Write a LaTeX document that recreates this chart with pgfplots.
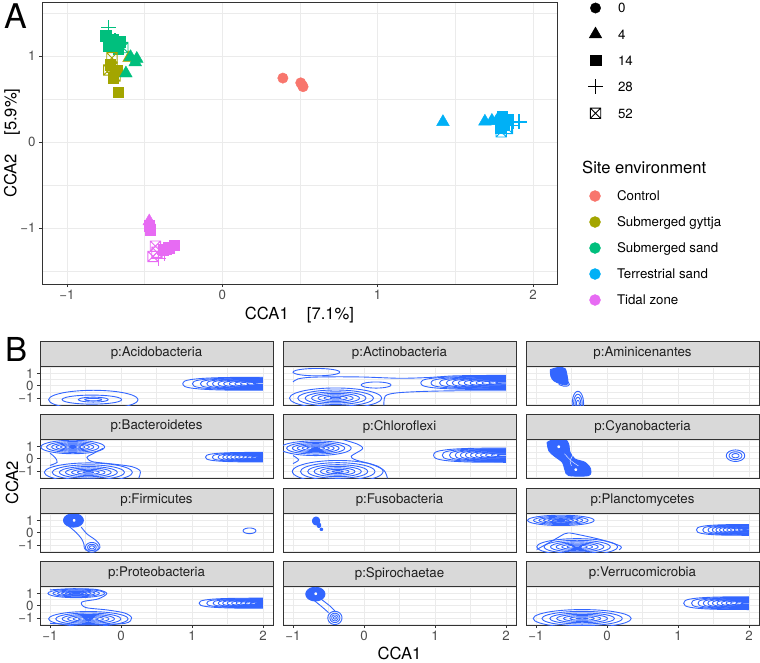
\documentclass[border=0pt]{standalone}
\usepackage{pgfplots}
\pgfplotsset{compat=1.18}
\usepackage{pgfplotstable}
\usepackage{fontspec}
\setmainfont{TeX Gyre Heros}

\definecolor{cA}{HTML}{F8766D}
\definecolor{cB}{HTML}{A3A500}
\definecolor{cC}{HTML}{00BF7D}
\definecolor{cD}{HTML}{00B0F6}
\definecolor{cE}{HTML}{E76BF3}
\definecolor{cblue}{HTML}{3366FF}
\definecolor{gridc}{HTML}{EBEBEB}
\definecolor{stripc}{HTML}{D9D9D9}
\definecolor{bordc}{HTML}{333333}
\definecolor{tickc}{HTML}{4D4D4D}

\pgfdeclareplotmark{sqx}{%
  \pgfpathrectangle{\pgfpoint{-\pgfplotmarksize}{-\pgfplotmarksize}}{\pgfpoint{2\pgfplotmarksize}{2\pgfplotmarksize}}%
  \pgfpathmoveto{\pgfpoint{-\pgfplotmarksize}{-\pgfplotmarksize}}\pgfpathlineto{\pgfpoint{\pgfplotmarksize}{\pgfplotmarksize}}%
  \pgfpathmoveto{\pgfpoint{-\pgfplotmarksize}{\pgfplotmarksize}}\pgfpathlineto{\pgfpoint{\pgfplotmarksize}{-\pgfplotmarksize}}%
  \pgfusepathqstroke}

% unit ellipse (full) and left half of a rounded-rectangle (superellipse) used as contour templates
\pgfplotstableread{
u v
1 0
0.9659 0.2588
0.8660 0.5
0.7071 0.7071
0.5 0.8660
0.2588 0.9659
0 1
-0.2588 0.9659
-0.5 0.8660
-0.7071 0.7071
-0.8660 0.5
-0.9659 0.2588
-1 0
-0.9659 -0.2588
-0.8660 -0.5
-0.7071 -0.7071
-0.5 -0.8660
-0.2588 -0.9659
0 -1
0.2588 -0.9659
0.5 -0.8660
0.7071 -0.7071
0.8660 -0.5
0.9659 -0.2588
1 0
}\fullE
\pgfplotstableread{
u v
0 1
-0.406 0.977
-0.630 0.908
-0.794 0.794
-0.908 0.630
-0.977 0.406
-1 0
-0.977 -0.406
-0.908 -0.630
-0.794 -0.794
-0.630 -0.908
-0.406 -0.977
0 -1
}\halfE

\pgfplotsset{
  cline/.style={cblue, line width=0.9pt, smooth, mark=none},
  facet/.style={scale only axis, width=233pt, height=39pt, anchor=north west,
    xmin=-1.141, xmax=2.141, ymin=-1.58, ymax=1.6,
    xtick={-1,0,1,2}, ytick={-1,0,1},
    minor xtick={-0.5,0.5,1.5}, minor ytick={-1.5,-0.5,0.5,1.5},
    xticklabels={}, yticklabels={},
    grid=both, major grid style={gridc, line width=0.7pt}, minor grid style={gridc, line width=0.35pt},
    axis line style={bordc, line width=0.6pt},
    tick pos=left, tick align=outside, major tick length=3pt, minor tick length=0pt,
    xtick style={draw=none}, ytick style={draw=none},
    ticklabel style={font=\fontsize{13.3}{15}\selectfont, text=tickc},
  },
  lcol/.style={yticklabels={−1,0,1}, ytick style={draw=bordc, line width=0.6pt}},
  brow/.style={xticklabels={−1,0,1,2}, xtick style={draw=bordc, line width=0.6pt}},
}
\tikzset{strip/.style={draw=bordc, fill=stripc, line width=0.6pt, minimum width=233pt, minimum height=25pt,
  inner sep=0pt, font=\fontsize{13.3}{15}\selectfont, text=black!88}}

\newcommand{\ELs}[6]{\addplot[cline] table[x expr={#1+(#3)*(#5)*\thisrow{u}}, y expr={#2+(#4)*(#6)*\thisrow{v}}]{\fullE};}
\newcommand{\EL}[4]{\ELs{#1}{#2}{#3}{#4}{1}{1}}
\newcommand{\ELF}[5][cblue]{\addplot[cline, draw=#1, fill=#1] table[x expr={#2+(#4)*\thisrow{u}}, y expr={#3+(#5)*\thisrow{v}}]{\fullE};}
\newcommand{\nest}[4]{\ELs{#1}{#2}{#3}{#4}{1}{1}\ELs{#1}{#2}{#3}{#4}{0.82}{0.8}\ELs{#1}{#2}{#3}{#4}{0.66}{0.62}\ELs{#1}{#2}{#3}{#4}{0.52}{0.47}\ELs{#1}{#2}{#3}{#4}{0.38}{0.33}\ELs{#1}{#2}{#3}{#4}{0.25}{0.2}\ELs{#1}{#2}{#3}{#4}{0.12}{0.08}}
\newcommand{\HLs}[5]{\addplot[cline] table[x expr={2+(#2)*(#4)*\thisrow{u}}, y expr={#1+(#3)*(#5)*\thisrow{v}}]{\halfE};}
\newcommand{\band}[3]{\HLs{#1}{#2}{#3}{1}{1}\HLs{#1}{#2}{#3}{0.88}{0.9}\HLs{#1}{#2}{#3}{0.78}{0.82}\HLs{#1}{#2}{#3}{0.7}{0.75}\HLs{#1}{#2}{#3}{0.63}{0.68}\HLs{#1}{#2}{#3}{0.56}{0.6}\HLs{#1}{#2}{#3}{0.49}{0.52}\HLs{#1}{#2}{#3}{0.42}{0.44}\HLs{#1}{#2}{#3}{0.35}{0.36}\HLs{#1}{#2}{#3}{0.28}{0.28}\HLs{#1}{#2}{#3}{0.2}{0.2}\HLs{#1}{#2}{#3}{0.12}{0.12}}

\begin{document}
\begin{tikzpicture}[x=1pt,y=1pt]
\path[use as bounding box] (0,0) rectangle (760,-662);

% ---------------- Panel A ----------------
\begin{axis}[
  scale only axis, width=515pt, height=282pt, at={(42pt,-2pt)}, anchor=north west,
  xmin=-1.16, xmax=2.154, ymin=-1.65, ymax=1.63,
  xtick={-1,0,1,2}, xticklabels={−1,0,1,2},
  ytick={-1,0,1}, yticklabels={−1,0,1},
  minor xtick={-0.5,0.5,1.5}, minor ytick={-1.5,-0.5,0.5,1.5},
  grid=both, major grid style={gridc, line width=0.7pt}, minor grid style={gridc, line width=0.35pt},
  axis line style={bordc, line width=0.6pt},
  tick pos=left, tick align=outside, major tick length=3pt, minor tick length=0pt,
  tick style={bordc, line width=0.6pt},
  ticklabel style={font=\fontsize{13.3}{15}\selectfont, text=tickc},
  xlabel={CCA1\hspace{1.1em}[7.1\%]}, ylabel={CCA2\hspace{1.1em}[5.9\%]},
  label style={font=\fontsize{16.6}{18}\selectfont},
  xlabel style={at={(axis description cs:0.5,-0.11)}, anchor=center},
  ylabel style={at={(axis description cs:-0.0583,0.5)}, anchor=center},
]
% Submerged sand
\addplot[only marks, mark=+, cC, mark size=7.5pt, line width=1.3pt] coordinates {(-0.73,1.33)(-0.69,1.18)};
\addplot[only marks, mark=square*, cC, mark size=5.2pt] coordinates {(-0.75,1.24)(-0.70,1.20)(-0.73,1.12)(-0.66,1.17)(-0.67,1.08)};
\addplot[only marks, mark=sqx, cC, mark size=5.2pt, line width=0.9pt] coordinates {(-0.64,1.10)};
% Submerged gyttja
\addplot[only marks, mark=triangle*, cB, mark size=7.3pt] coordinates {(-0.60,0.98)};
\addplot[only marks, mark=square*, cB, mark size=5.2pt] coordinates {(-0.67,0.58)(-0.72,0.90)(-0.68,0.83)(-0.70,0.75)};
\addplot[only marks, mark=sqx, cB, mark size=5.2pt, line width=0.9pt] coordinates {(-0.71,0.98)(-0.71,0.87)(-0.69,0.77)(-0.73,0.84)};
\addplot[only marks, mark=+, cB, mark size=7.5pt, line width=1.3pt] coordinates {(-0.70,0.86)};
\addplot[only marks, mark=triangle*, cC, mark size=7.3pt] coordinates {(-0.59,0.99)(-0.56,0.93)(-0.62,0.80)(-0.55,0.97)};
% Control
\addplot[only marks, mark=*, cA, mark size=5.2pt] coordinates {(0.39,0.745)(0.505,0.69)(0.515,0.66)(0.52,0.645)};
% Terrestrial sand
\addplot[only marks, mark=triangle*, cD, mark size=7.3pt] coordinates {(1.42,0.235)(1.69,0.24)(1.735,0.25)(1.765,0.245)};
\addplot[only marks, mark=square*, cD, mark size=5.2pt] coordinates {(1.80,0.30)(1.835,0.27)(1.815,0.20)(1.79,0.16)};
\addplot[only marks, mark=+, cD, mark size=7.5pt, line width=1.3pt] coordinates {(1.875,0.235)(1.91,0.235)(1.86,0.19)};
\addplot[only marks, mark=sqx, cD, mark size=5.2pt, line width=0.9pt] coordinates {(1.795,0.12)(1.835,0.16)};
% Tidal zone
\addplot[only marks, mark=triangle*, cE, mark size=7.3pt] coordinates {(-0.47,-0.92)};
\addplot[only marks, mark=square*, cE, mark size=5.2pt] coordinates {(-0.47,-0.97)(-0.465,-1.02)(-0.31,-1.20)(-0.345,-1.23)(-0.38,-1.25)};
\addplot[only marks, mark=sqx, cE, mark size=5.2pt, line width=0.9pt] coordinates {(-0.43,-1.21)(-0.445,-1.33)(-0.42,-1.28)};
\addplot[only marks, mark=+, cE, mark size=7.5pt, line width=1.3pt] coordinates {(-0.37,-1.30)(-0.41,-1.35)};
\end{axis}

% shape legend
\begin{axis}[hide axis, scale only axis, width=10pt, height=10pt, at={(588pt,-1pt)}, anchor=north west,
  xmin=0, xmax=1, ymin=0, ymax=1,
  legend cell align=left,
  legend style={at={(0,1)}, anchor=north west, draw=none, fill=none, inner sep=0pt, outer sep=0pt,
    font=\fontsize{13.3}{15}\selectfont, row sep=12pt,
    nodes={inner sep=1pt, minimum height=14pt, text height=9.5pt, text depth=0pt, anchor=west},
    /tikz/every odd column/.append style={column sep=14pt}},
  legend image code/.code={\draw[#1] plot coordinates {(0pt,0pt)};},
]
\addlegendimage{only marks, mark=*, black, mark size=5.2pt}
\addlegendentry{0}
\addlegendimage{only marks, mark=triangle*, black, mark size=7.3pt}
\addlegendentry{4}
\addlegendimage{only marks, mark=square*, black, mark size=5.2pt}
\addlegendentry{14}
\addlegendimage{only marks, mark=+, black, mark size=7.5pt, line width=1.1pt}
\addlegendentry{28}
\addlegendimage{only marks, mark=sqx, black, mark size=5.2pt, line width=0.9pt}
\addlegendentry{52}
\end{axis}

\node[anchor=west, inner sep=0pt, font=\fontsize{16.6}{18}\selectfont] at (582,-167) {Site environment};

% colour legend
\begin{axis}[hide axis, scale only axis, width=10pt, height=10pt, at={(589.5pt,-189pt)}, anchor=north west,
  xmin=0, xmax=1, ymin=0, ymax=1,
  legend cell align=left,
  legend style={at={(0,1)}, anchor=north west, draw=none, fill=none, inner sep=0pt, outer sep=0pt,
    font=\fontsize{13.3}{15}\selectfont, row sep=12pt,
    nodes={inner sep=1pt, minimum height=14pt, text height=9.5pt, text depth=0pt, anchor=west},
    /tikz/every odd column/.append style={column sep=15.5pt}},
  legend image code/.code={\draw[#1] plot coordinates {(0pt,0pt)};},
]
\addlegendimage{only marks, mark=*, cA, mark size=5.5pt}
\addlegendentry{Control}
\addlegendimage{only marks, mark=*, cB, mark size=5.5pt}
\addlegendentry{Submerged gyttja}
\addlegendimage{only marks, mark=*, cC, mark size=5.5pt}
\addlegendentry{Submerged sand}
\addlegendimage{only marks, mark=*, cD, mark size=5.5pt}
\addlegendentry{Terrestrial sand}
\addlegendimage{only marks, mark=*, cE, mark size=5.5pt}
\addlegendentry{Tidal zone}
\end{axis}

\node[anchor=north west, inner sep=0pt, font=\fontsize{34}{34}\selectfont] at (4,-4) {A};
\node[anchor=north west, inner sep=0pt, font=\fontsize{33}{33}\selectfont] at (5,-337) {B};

% ---------------- Panel B ----------------
% Acidobacteria
\begin{axis}[facet, at={(40pt,-366pt)}, lcol]
\EL{-0.39}{-1.15}{0.63}{0.77}
\EL{-0.41}{-1.14}{0.42}{0.37}
\EL{-0.39}{-1.14}{0.21}{0.2}
\EL{-0.39}{-1.14}{0.12}{0.1}
\band{0.15}{1.13}{0.53}
\end{axis}
% Actinobacteria
\begin{axis}[facet, at={(283pt,-366pt)}]
\EL{-0.67}{1.1}{0.33}{0.3}
\EL{0.17}{0.05}{0.21}{0.25}
\nest{-0.4}{-1.02}{0.65}{0.83}
\addplot[cline] coordinates {(-1,0.3)(-0.93,0.55)(-0.75,0.68)(-0.4,0.72)(0,0.7)(0.5,0.6)(0.9,0.66)(1.3,0.8)(2,0.84)};
\addplot[cline] coordinates {(2,-0.42)(1.3,-0.42)(0.8,-0.48)(0.45,-0.6)(0.3,-0.85)(0.28,-1.6)};
\band{0.22}{1.2}{0.54}
\end{axis}
% Aminicenantes
\begin{axis}[facet, at={(526pt,-366pt)}]
\addplot[cline, fill=cblue] coordinates {(-0.80,1.30)(-0.68,1.49)(-0.59,1.38)(-0.56,0.76)(-0.55,0.25)(-0.58,0.05)(-0.66,0.15)(-0.75,0.4)(-0.79,0.75)(-0.80,1.30)};
\addplot[cline] coordinates {(-0.56,0.4)(-0.53,0.1)(-0.55,-0.02)(-0.61,-0.05)(-0.68,0.1)};
\EL{-0.41}{-1.45}{0.08}{0.99}
\EL{-0.41}{-1.45}{0.06}{0.75}
\EL{-0.41}{-1.45}{0.04}{0.5}
\EL{-0.41}{-1.45}{0.02}{0.25}
\end{axis}
% Bacteroidetes
\begin{axis}[facet, at={(40pt,-439pt)}, lcol]
\nest{-0.68}{0.95}{0.45}{0.55}
\nest{-0.46}{-1.12}{0.62}{0.77}
\addplot[cline] coordinates {(-0.25,0.85)(-0.38,0.45)(-0.48,0.1)(-0.4,-0.25)(-0.1,-0.45)(0.15,-0.65)(0.27,-1.0)(0.25,-1.6)};
\addplot[cline] coordinates {(-1.0,0.45)(-0.93,0.1)(-0.9,-0.3)(-1.0,-0.55)};
\band{0.12}{0.81}{0.39}
\end{axis}
% Chloroflexi
\begin{axis}[facet, at={(283pt,-439pt)}]
\nest{-0.68}{0.85}{0.5}{0.6}
\nest{-0.37}{-1.05}{0.64}{0.9}
\addplot[cline] coordinates {(-0.35,1.63)(-0.1,1.2)(-0.02,0.8)(-0.18,0.2)(-0.12,-0.1)(0.1,-0.45)(0.28,-0.95)(0.33,-1.6)};
\addplot[cline] coordinates {(-1.0,0.25)(-0.92,-0.1)(-1.0,-0.4)};
\band{0.28}{1.02}{0.58}
\end{axis}
% Cyanobacteria
\begin{axis}[facet, at={(526pt,-439pt)}]
\addplot[cline, fill=cblue] coordinates {(-0.845,1.32)(-0.75,1.57)(-0.59,1.57)(-0.54,1.19)(-0.52,0.51)(-0.45,-0.03)(-0.31,-0.30)(-0.23,-0.84)(-0.26,-1.38)(-0.54,-1.38)(-0.59,-0.97)(-0.63,-0.30)(-0.75,0.24)(-0.82,0.65)(-0.845,1.32)};
\ELF[white]{-0.68}{0.97}{0.012}{0.07}
\ELF[white]{-0.44}{-0.9}{0.012}{0.07}
\addplot[white, line width=0.4pt, smooth] coordinates {(-0.6,0.4)(-0.5,-0.2)(-0.4,-0.6)};
\addplot[white, line width=0.4pt, smooth] coordinates {(-0.48,0.3)(-0.52,-0.2)(-0.5,-0.6)};
\EL{1.81}{0.24}{0.13}{0.47}
\EL{1.81}{0.24}{0.09}{0.32}
\EL{1.81}{0.24}{0.05}{0.17}
\end{axis}
% Firmicutes
\begin{axis}[facet, at={(40pt,-513pt)}, lcol]
\ELF{-0.67}{1.0}{0.14}{0.55}
\ELF[white]{-0.66}{1.0}{0.012}{0.07}
\addplot[cline] coordinates {(-0.73,0.5)(-0.63,0.0)(-0.55,-0.55)(-0.52,-1.0)(-0.5,-1.4)(-0.32,-1.4)(-0.3,-1.0)(-0.36,-0.6)(-0.48,-0.1)(-0.56,0.45)};
\EL{-0.41}{-1.2}{0.09}{0.4}
\EL{-0.41}{-1.2}{0.06}{0.25}
\EL{-0.41}{-1.2}{0.035}{0.12}
\EL{1.81}{0.15}{0.09}{0.23}
\end{axis}
% Fusobacteria
\begin{axis}[facet, at={(283pt,-513pt)}]
\ELF{-0.675}{0.95}{0.05}{0.32}
\ELF{-0.635}{0.6}{0.025}{0.18}
\ELF{-0.6}{0.27}{0.018}{0.1}
\end{axis}
% Planctomycetes
\begin{axis}[facet, at={(526pt,-513pt)}]
\nest{-0.65}{1.0}{0.47}{0.42}
\nest{-0.42}{-1.16}{0.57}{0.67}
\addplot[cline] coordinates {(-0.99,-1.38)(-0.75,-0.6)(-0.6,-0.1)(-0.55,-0.03)(-0.47,-0.08)(-0.1,-0.55)(0.19,-1.1)(0.17,-1.4)};
\band{0.22}{0.74}{0.44}
\end{axis}
% Proteobacteria
\begin{axis}[facet, at={(40pt,-586pt)}, lcol, brow]
\nest{-0.63}{1.0}{0.4}{0.35}
\nest{-0.46}{-1.08}{0.56}{0.6}
\addplot[cline] coordinates {(-1.0,1.28)(-0.7,1.38)(-0.35,1.32)(-0.2,1.0)(-0.32,0.55)(-0.55,0.3)(-0.5,-0.15)(-0.2,-0.35)(0.05,-0.6)(0.15,-1.0)(0.05,-1.45)(-0.5,-1.55)(-1.0,-1.45)};
\band{0.2}{0.9}{0.41}
\end{axis}
% Spirochaetae
\begin{axis}[facet, at={(283pt,-586pt)}, brow]
\ELF{-0.685}{0.94}{0.135}{0.56}
\ELF[white]{-0.68}{0.97}{0.012}{0.07}
\addplot[cline] coordinates {(-0.72,0.51)(-0.58,-0.16)(-0.5,-0.57)};
\addplot[cline] coordinates {(-0.6,0.51)(-0.48,-0.03)(-0.41,-0.43)};
\EL{-0.41}{-1.0}{0.1}{0.54}
\EL{-0.41}{-1.0}{0.07}{0.38}
\EL{-0.41}{-1.0}{0.045}{0.24}
\EL{-0.41}{-1.0}{0.02}{0.1}
\end{axis}
% Verrucomicrobia
\begin{axis}[facet, at={(526pt,-586pt)}, brow]
\nest{-0.35}{-1.05}{0.69}{0.73}
\band{0.2}{0.92}{0.52}
\end{axis}

% facet strips
\node[strip] at (156.5,-353.5) {p:Acidobacteria};
\node[strip] at (399.5,-353.5) {p:Actinobacteria};
\node[strip] at (642.5,-353.5) {p:Aminicenantes};
\node[strip] at (156.5,-426.5) {p:Bacteroidetes};
\node[strip] at (399.5,-426.5) {p:Chloroflexi};
\node[strip] at (642.5,-426.5) {p:Cyanobacteria};
\node[strip] at (156.5,-500.5) {p:Firmicutes};
\node[strip] at (399.5,-500.5) {p:Fusobacteria};
\node[strip] at (642.5,-500.5) {p:Planctomycetes};
\node[strip] at (156.5,-573.5) {p:Proteobacteria};
\node[strip] at (399.5,-573.5) {p:Spirochaetae};
\node[strip] at (642.5,-573.5) {p:Verrucomicrobia};

\node[rotate=90, font=\fontsize{16.6}{18}\selectfont] at (12,-483) {CCA2};
\node[font=\fontsize{16.6}{18}\selectfont] at (399.5,-653) {CCA1};
\end{tikzpicture}
\end{document}
